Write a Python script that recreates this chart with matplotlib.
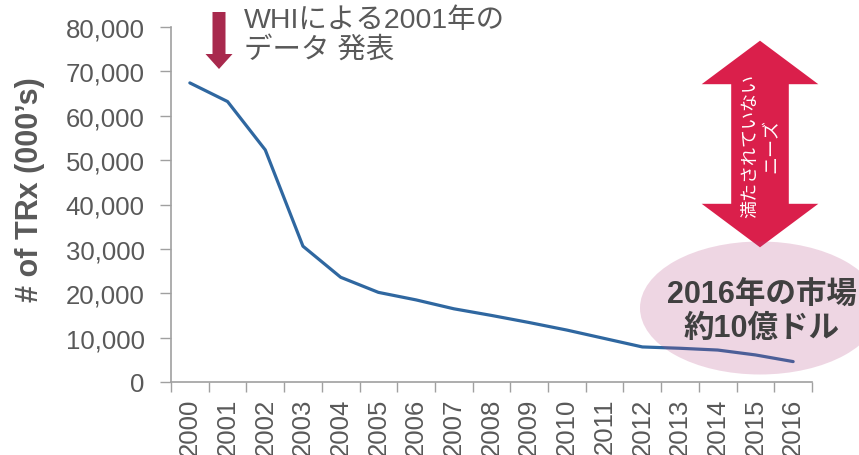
import matplotlib
matplotlib.use("Agg")
import matplotlib.pyplot as plt
import matplotlib.patches as mpatches
from matplotlib.transforms import Affine2D
from matplotlib.ticker import FuncFormatter, FixedLocator
import numpy as np

years = ["2000", "2001", "2002", "2003", "2004", "2005", "2006", "2007", "2008",
         "2009", "2010", "2011", "2012", "2013", "2014", "2015", "2016"]
trx = [67400, 63200, 52300, 30600, 23600, 20200, 18500, 16500, 15000,
       13400, 11700, 9800, 7900, 7600, 7200, 6100, 4600]
yticks = [0, 10000, 20000, 30000, 40000, 50000, 60000, 70000, 80000]

W, H = 859, 456
fig = plt.figure(figsize=(W / 100, H / 100), dpi=100)
ax = fig.add_axes([171 / W, 1 - 383 / H, (812 - 171) / W, (383 - 28) / H])

# pixel transform (x from left, y from top)
px = Affine2D().scale(1 / 100.0).scale(1, -1).translate(0, H / 100.0) + fig.dpi_scale_trans

gray_txt = "#595959"
spine_c = "#A0A0A0"
latin = ["Liberation Sans", "Noto Sans CJK JP", "DejaVu Sans"]

x = np.arange(len(years))
ax.plot(x, trx, color="#2F67A0", lw=2.3, solid_capstyle="round", solid_joinstyle="round", zorder=2)

ax.set_xlim(-0.5, len(years) - 0.5)
ax.set_ylim(0, 80000)
ax.set_yticks(yticks)
ax.yaxis.set_major_formatter(FuncFormatter(lambda v, p: f"{int(v):,}"))

ax.xaxis.set_major_locator(FixedLocator(np.arange(-0.5, len(years))))
ax.xaxis.set_minor_locator(FixedLocator(x))
ax.set_xticklabels([], minor=False)
ax.set_xticklabels(years, minor=True, rotation=90)
ax.tick_params(axis="x", which="major", length=7, width=1, color=spine_c, direction="out")
ax.tick_params(axis="x", which="minor", length=0, pad=11, labelsize=18.5,
               labelcolor=gray_txt)
ax.tick_params(axis="y", length=8, width=1, color=spine_c, direction="out", pad=11,
               labelsize=18.5, labelcolor=gray_txt)
for lab in ax.get_xticklabels(minor=True) + ax.get_yticklabels():
    lab.set_fontfamily(latin)
for lab in ax.get_xticklabels(minor=True):
    lab.set_va("top")

for s in ["top", "right"]:
    ax.spines[s].set_visible(False)
for s in ["left", "bottom"]:
    ax.spines[s].set_color(spine_c)
    ax.spines[s].set_linewidth(1.2)

fig.text(30 / W, 1 - 190 / H, "# of TRx (000\u2019s)", rotation=90, ha="center", va="center",
         fontsize=22, fontweight="bold", color=gray_txt, family=latin)

# top annotation: down arrow + text
cx = 219
down = [(cx - 6.5, 13), (cx + 6.5, 13), (cx + 6.5, 55), (cx + 13.5, 55), (cx, 70),
        (cx - 13.5, 55), (cx - 6.5, 55)]
fig.patches.append(mpatches.Polygon(down, closed=True, transform=px, facecolor="#A8294D",
                                    edgecolor="none", figure=fig))
fig.text(244 / W, 1 - 8 / H, "WHIによる2001年の\nデータ 発表", ha="left", va="top",
         fontsize=20.5, color=gray_txt, linespacing=1.15, family=latin)

# big double arrow
acx, top, bot = 760, 41.7, 248.3
hw, sw, hl = 58.3, 28.8, 43.5
dbl = [(acx, top), (acx + hw, top + hl), (acx + sw, top + hl), (acx + sw, bot - hl),
       (acx + hw, bot - hl), (acx, bot), (acx - hw, bot - hl), (acx - sw, bot - hl),
       (acx - sw, top + hl), (acx - hw, top + hl)]
p = mpatches.Polygon(dbl, closed=True, transform=px, facecolor="#DA1F4B", edgecolor="none",
                     clip_on=False, zorder=2.5)
ax.add_patch(p)
t = ax.text(0, 0, "満たされていない\nニーズ", rotation=90, ha="center", va="center",
            multialignment="center", fontsize=13, color="white", linespacing=1.25,
            family=["Noto Sans CJK JP", "DejaVu Sans"], zorder=2.6, clip_on=False)
t.set_transform(px)
t.set_position((761, 146))

# ellipse
e = mpatches.Ellipse((760, 309), 240, 133, transform=px, facecolor="#B64580", alpha=0.22,
                     edgecolor="none", clip_on=False, zorder=3)
ax.add_patch(e)
t2 = ax.text(0, 0, "2016年の市場\n約10億ドル", ha="center", va="center", fontsize=22,
             fontweight="bold", color="#404040", linespacing=1.2,
             family=latin, zorder=4, clip_on=False)
t2.set_transform(px)
t2.set_position((762, 312))

fig.savefig("out.png", dpi=100)
